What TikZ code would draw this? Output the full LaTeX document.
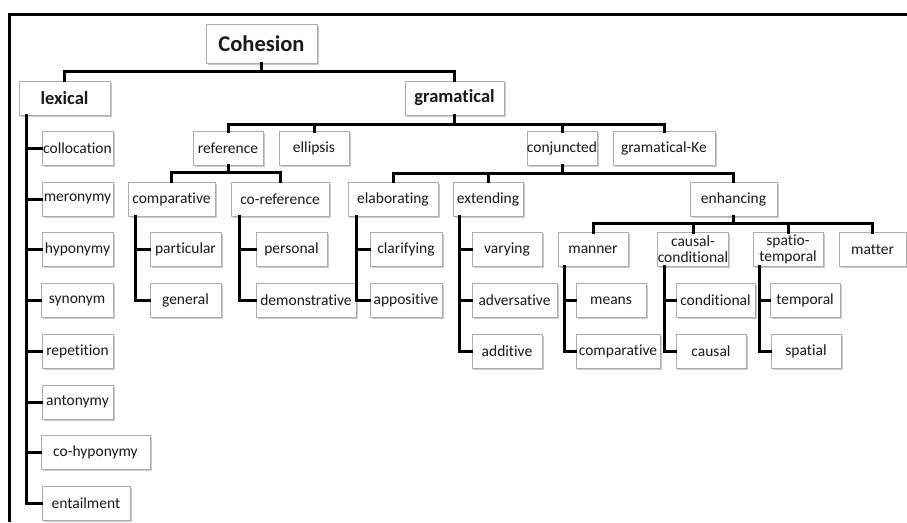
\documentclass[tikz,border=0pt]{standalone}
\usepackage{fontspec}
\setmainfont[Ligatures=NoCommon]{Carlito}
\usetikzlibrary{shadows}
\tikzset{
  box/.style={draw=black!32, fill=white, line width=0.8pt, inner sep=0pt,
    text=black!90, font=\fontsize{15.5}{16}\selectfont, align=center,
    drop shadow={shadow xshift=1.6pt, shadow yshift=-1.8pt, opacity=0.35, fill=black!60}},
  conn/.style={line width=3pt, black, line cap=rect},
  frame/.style={line width=3pt, black}
}
\newcommand\bx[7][]{%
  \node[box, #1, minimum width={(#4-#3)*1pt}, minimum height={#6*1pt}]
    (#2) at ({(#3+#4)/2},{#5}) {#7};}
\begin{document}
\begin{tikzpicture}[x=1pt, y=-1pt]
\useasboundingbox (0,0) rectangle (907,522);
% frame
\coordinate (fTL) at (9,14);
\coordinate (fTR) at (907,14);
\coordinate (fBL) at (9,522);
\draw[frame] (fTR) -- (fTL) -- (fBL);

% top levels
\bx[font=\fontsize{22.5}{24}\selectfont\bfseries]{coh}{206}{317}{43.5}{39}{Cohesion}
\bx[font=\fontsize{18.5}{20}\selectfont\bfseries]{lex}{19}{110}{98}{34}{lexical}
\bx[font=\fontsize{18.5}{20}\selectfont\bfseries]{gram}{405}{504}{98}{34}{gramatical}

% lexical children
\bx{coll}{42}{113}{148.5}{34}{collocation}
\bx{mero}{42}{113}{199}{34}{meronymy}
\bx{hypo}{42}{113}{249.5}{34}{hyponymy}
\bx{syn}{41}{113}{300.5}{34}{synonym}
\bx{rep}{42}{113}{351}{34}{repetition}
\bx{ant}{42}{113}{402}{34}{antonymy}
\bx{cohyp}{41}{150}{452}{34}{co-hyponymy}
\bx{ent}{42}{130}{503}{34}{entailment}

% gramatical children
\bx{ref}{193}{263}{148.5}{34}{reference}
\bx{ell}{279}{349}{148.5}{34}{ellipsis}
\bx{conj}{527}{597}{148.5}{34}{conjuncted}
\bx{gke}{613}{715}{148.5}{34}{gramatical-Ke}

% row 1
\bx{comp}{128}{215}{199}{34}{comparative}
\bx{coref}{231}{329}{199}{34}{co-reference}
\bx{elab}{348}{438}{199}{34}{elaborating}
\bx{ext}{453}{523}{199}{34}{extending}
\bx{enh}{690}{777}{199}{34}{enhancing}

% row 2
\bx{part}{150}{221}{249.5}{34}{particular}
\bx{pers}{256}{327}{249.5}{34}{personal}
\bx{clar}{370}{442}{249.5}{34}{clarifying}
\bx{vary}{472}{542}{249.5}{34}{varying}
\bx{mann}{558}{628}{249.5}{34}{manner}
\bx{cc}{658}{728}{249.5}{34}{causal-\\conditional}
\bx{st}{753}{823}{249.5}{34}{spatio-\\temporal}
\bx{matt}{839}{906}{249.5}{34}{matter}

% row 3
\bx{gen}{150}{221}{300.5}{34}{general}
\bx{demo}{256}{356}{300.5}{34}{demonstrative}
\bx{appo}{370}{442}{300.5}{34}{appositive}
\bx{adv}{472}{557}{300.5}{34}{adversative}
\bx{means}{576}{646}{300.5}{34}{means}
\bx{condl}{676}{755}{300.5}{34}{conditional}
\bx{tempo}{770}{840}{300.5}{34}{temporal}

% row 4
\bx{add}{472}{542}{351}{34}{additive}
\bx{comptwo}{576}{660}{351}{34}{comparative}
\bx{causal}{676}{746}{351}{34}{causal}
\bx{spat}{771}{841}{351}{34}{spatial}

% ---- connectors: buses ----
\draw[conn] (coh.south) -- ++(0,8) -| (lex.north);
\draw[conn] (coh.south) -- ++(0,8) -| (gram.north);

\foreach \c in {ref,ell,conj,gke}
  \draw[conn] (gram.south) -- ++(0,9) -| (\c.north);
\foreach \c in {comp,coref}
  \draw[conn] (ref.south) -- ++(0,7) -| (\c.north);
\foreach \c in {elab,ext,enh}
  \draw[conn] (conj.south) -- ++(0,8) -| (\c.north);
\foreach \c in {mann,cc,st,matt}
  \draw[conn] (enh.south) -- ++(0,7) -| (\c.north);

% ---- connectors: side trunks ----
\foreach \c in {coll,mero,hypo,syn,rep,ant,cohyp,ent}
  \draw[conn] ([xshift=8pt]lex.south west) |- (\c.west);
\foreach \c in {part,gen}
  \draw[conn] ([xshift=8pt]comp.south west) |- (\c.west);
\foreach \c in {pers,demo}
  \draw[conn] ([xshift=9pt]coref.south west) |- (\c.west);
\foreach \c in {clar,appo}
  \draw[conn] ([xshift=9pt]elab.south west) |- (\c.west);
\foreach \c in {vary,adv,add}
  \draw[conn] ([xshift=7pt]ext.south west) |- (\c.west);
\foreach \c in {means,comptwo}
  \draw[conn] ([xshift=7pt]mann.south west) |- (\c.west);
\foreach \c in {condl,causal}
  \draw[conn] ([xshift=7pt]cc.south west) |- (\c.west);
\foreach \c in {tempo,spat}
  \draw[conn] ([xshift=7pt]st.south west) |- (\c.west);
\end{tikzpicture}
\end{document}
